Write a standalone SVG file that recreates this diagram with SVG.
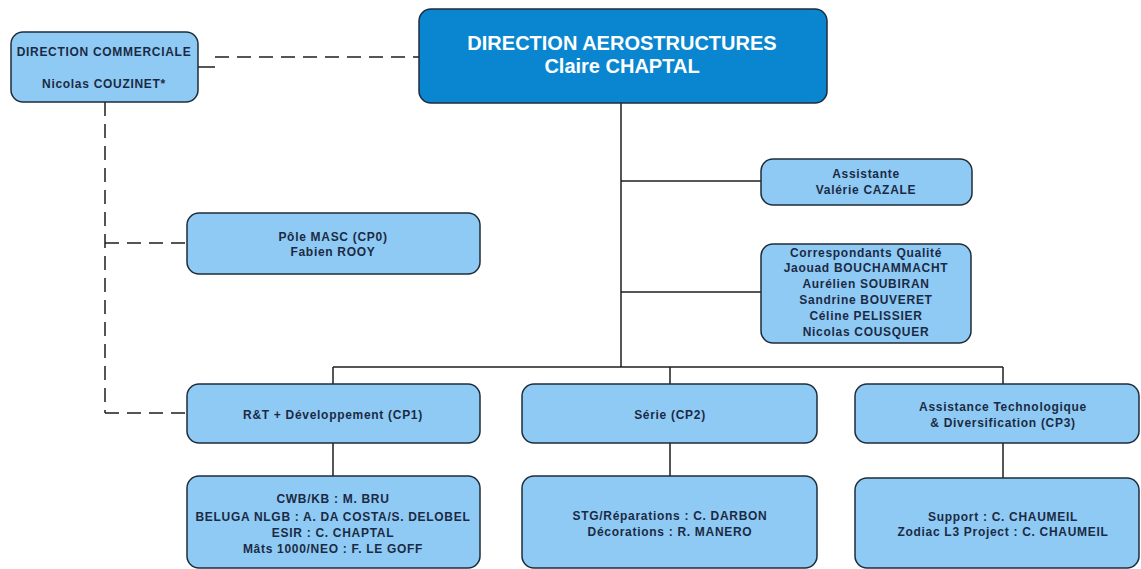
<svg xmlns="http://www.w3.org/2000/svg" width="1141" height="569" viewBox="0 0 1141 569">
<style>
.box{fill:#8FCAF4;stroke:#1e2c3a;stroke-width:1.5}
.main{fill:#0A86D0;stroke:#1e2c3a;stroke-width:1.5}
.t{font-family:"Liberation Sans",Arial,sans-serif;font-weight:bold;font-size:12px;letter-spacing:0.7px;fill:#1b2a44;text-anchor:middle}
.tm{font-family:"Liberation Sans",Arial,sans-serif;font-weight:bold;font-size:20px;fill:#ffffff;text-anchor:middle}
.ln{fill:none;stroke:#1e1e1e;stroke-width:1.5}
.dl{fill:none;stroke:#1e1e1e;stroke-width:1.5;stroke-dasharray:14,8}
</style>
<rect width="1141" height="569" fill="#ffffff"/>
<g id="connectors">
<polyline class="ln" points="198,67 215,67"/>
<line class="dl" x1="215" y1="57" x2="419" y2="57"/>
<line class="dl" x1="105" y1="102" x2="105" y2="413"/>
<line class="dl" x1="105" y1="243" x2="187" y2="243"/>
<line class="dl" x1="105" y1="413" x2="187" y2="413"/>
<line class="ln" x1="621" y1="103" x2="621" y2="367"/>
<line class="ln" x1="621" y1="181" x2="761" y2="181"/>
<line class="ln" x1="621" y1="292" x2="761" y2="292"/>
<line class="ln" x1="333" y1="367" x2="1003" y2="367"/>
<line class="ln" x1="333" y1="367" x2="333" y2="384"/>
<line class="ln" x1="670" y1="367" x2="670" y2="384"/>
<line class="ln" x1="1003" y1="367" x2="1003" y2="384"/>
<line class="ln" x1="333" y1="443" x2="333" y2="476"/>
<line class="ln" x1="670" y1="443" x2="670" y2="476"/>
<line class="ln" x1="1003" y1="443" x2="1003" y2="478"/>
</g>
<g id="direction-commerciale">
<rect class="box" x="11" y="32" width="187" height="70" rx="12"/>
<text class="t" x="104" y="56">DIRECTION COMMERCIALE</text>
<text class="t" x="104" y="88">Nicolas COUZINET*</text>
</g>
<g id="direction-aerostructures">
<rect class="main" x="419" y="9" width="408" height="94" rx="12"/>
<text class="tm" x="622" y="50">DIRECTION AEROSTRUCTURES</text>
<text class="tm" x="622" y="73">Claire CHAPTAL</text>
</g>
<g id="assistante">
<rect class="box" x="761" y="159" width="211" height="46" rx="12"/>
<text class="t" x="866" y="178">Assistante</text>
<text class="t" x="866" y="194">Valérie CAZALE</text>
</g>
<g id="correspondants-qualite">
<rect class="box" x="761" y="244" width="210" height="99" rx="12"/>
<text class="t" x="866" y="257">Correspondants Qualité</text>
<text class="t" x="866" y="272">Jaouad BOUCHAMMACHT</text>
<text class="t" x="866" y="288">Aurélien SOUBIRAN</text>
<text class="t" x="866" y="304">Sandrine BOUVERET</text>
<text class="t" x="866" y="320">Céline PELISSIER</text>
<text class="t" x="866" y="336">Nicolas COUSQUER</text>
</g>
<g id="pole-masc">
<rect class="box" x="187" y="213" width="293" height="61" rx="12"/>
<text class="t" x="333" y="241">Pôle MASC (CP0)</text>
<text class="t" x="333" y="256">Fabien ROOY</text>
</g>
<g id="rt-developpement">
<rect class="box" x="187" y="384" width="293" height="59" rx="12"/>
<text class="t" x="333" y="419">R&amp;T + Développement (CP1)</text>
</g>
<g id="serie">
<rect class="box" x="522" y="384" width="295" height="59" rx="12"/>
<text class="t" x="670" y="419">Série (CP2)</text>
</g>
<g id="assistance-technologique">
<rect class="box" x="855" y="384" width="284" height="59" rx="12"/>
<text class="t" x="1003" y="411">Assistance Technologique</text>
<text class="t" x="1003" y="427">&amp; Diversification (CP3)</text>
</g>
<g id="cp1-projects">
<rect class="box" x="187" y="476" width="293" height="92" rx="12"/>
<text class="t" x="333" y="503">CWB/KB : M. BRU</text>
<text class="t" x="333" y="521">BELUGA NLGB : A. DA COSTA/S. DELOBEL</text>
<text class="t" x="333" y="537">ESIR : C. CHAPTAL</text>
<text class="t" x="333" y="553">Mâts 1000/NEO : F. LE GOFF</text>
</g>
<g id="cp2-projects">
<rect class="box" x="522" y="476" width="295" height="92" rx="12"/>
<text class="t" x="670" y="520">STG/Réparations : C. DARBON</text>
<text class="t" x="670" y="536">Décorations : R. MANERO</text>
</g>
<g id="cp3-projects">
<rect class="box" x="855" y="478" width="284" height="90" rx="12"/>
<text class="t" x="1003" y="521">Support : C. CHAUMEIL</text>
<text class="t" x="1003" y="536">Zodiac L3 Project : C. CHAUMEIL</text>
</g>
</svg>
